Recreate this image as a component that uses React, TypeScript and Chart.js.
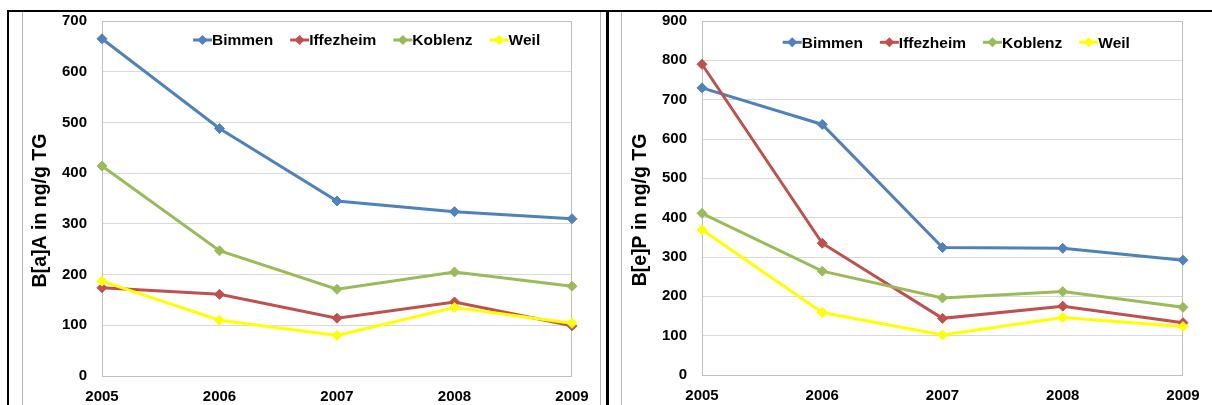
import React, { useEffect, useRef } from 'react';
import { Chart, registerables } from 'chart.js';

Chart.register(...registerables);

const FONT = '"Liberation Sans", Arial, sans-serif';

const years = ['2005', '2006', '2007', '2008', '2009'];
const stations = ['Bimmen', 'Iffezheim', 'Koblenz', 'Weil'];
const colors = ['#4F81BD', '#C0504D', '#9BBB59', '#FFFF00'];

// B[a]A in ng/g TG
const baaBimmen = [665, 488, 345, 324, 310];
const baaIffezheim = [174, 161, 114, 146, 99];
const baaKoblenz = [414, 247, 171, 205, 177];
const baaWeil = [187, 110, 80, 135, 104];

// B[e]P in ng/g TG
const bepBimmen = [730, 637, 324, 322, 292];
const bepIffezheim = [790, 335, 144, 175, 133];
const bepKoblenz = [411, 264, 196, 212, 172];
const bepWeil = [369, 159, 102, 146, 123];

const baaTicksMax = 700;
const bepTicksMax = 900;
const tickStep = 100;

const plotBorder = {
  id: 'plotBorder',
  beforeDatasetsDraw(chart: any) {
    const { ctx, chartArea } = chart;
    ctx.save();
    ctx.strokeStyle = '#bfbfbf';
    ctx.lineWidth = 1;
    ctx.strokeRect(
      Math.round(chartArea.left) + 0.5,
      Math.round(chartArea.top) + 0.5,
      Math.round(chartArea.right - chartArea.left) - 1,
      Math.round(chartArea.bottom - chartArea.top)
    );
    ctx.restore();
  },
};

const insideLegend = {
  id: 'insideLegend',
  afterDraw(chart: any, _args: any, opts: any) {
    const { ctx, chartArea } = chart;
    ctx.save();
    ctx.font = `bold ${opts.fontSize}px ${FONT}`;
    ctx.textBaseline = 'middle';
    ctx.textAlign = 'left';
    let x = chartArea.left + opts.offsetX;
    const y = chartArea.top + opts.offsetY;
    chart.data.datasets.forEach((ds: any) => {
      const c = ds.borderColor;
      ctx.strokeStyle = c;
      ctx.lineWidth = 3;
      ctx.beginPath();
      ctx.moveTo(x, y);
      ctx.lineTo(x + 19, y);
      ctx.stroke();
      ctx.fillStyle = c;
      ctx.beginPath();
      ctx.moveTo(x + 9.5, y - 5);
      ctx.lineTo(x + 14.5, y);
      ctx.lineTo(x + 9.5, y + 5);
      ctx.lineTo(x + 4.5, y);
      ctx.closePath();
      ctx.fill();
      ctx.fillStyle = '#000';
      ctx.fillText(ds.label, x + 19, y + 1);
      x += 19 + ctx.measureText(ds.label).width + opts.gap;
    });
    ctx.restore();
  },
};

const yTitle = {
  id: 'yTitle',
  afterDraw(chart: any, _args: any, opts: any) {
    const { ctx } = chart;
    ctx.save();
    ctx.translate(opts.x, opts.y);
    ctx.rotate(-Math.PI / 2);
    ctx.font = `bold ${opts.size}px ${FONT}`;
    ctx.textAlign = 'center';
    ctx.textBaseline = 'alphabetic';
    ctx.fillStyle = '#000';
    ctx.fillText(opts.text, 0, 0);
    ctx.restore();
  },
};

type PanelProps = {
  left: number;
  top: number;
  width: number;
  height: number;
  series: number[][];
  yMax: number;
  title: string;
  padTop: number;
  padRight: number;
  yAxisWidth: number;
  xAxisHeight: number;
  legendX: number;
  legendY: number;
  titleX: number;
  titleY: number;
};

function ChartPanel(p: PanelProps) {
  const ref = useRef<HTMLCanvasElement>(null);
  useEffect(() => {
    if (!ref.current) return;
    const tickFont = { family: FONT, size: 15, weight: 'bold' as const };
    const chart = new Chart(ref.current, {
      type: 'line',
      data: {
        labels: years,
        datasets: stations.map((name, i) => ({
          label: name,
          data: p.series[i],
          borderColor: colors[i],
          backgroundColor: colors[i],
          borderWidth: 3,
          pointStyle: 'rectRot',
          pointRadius: 5,
          pointBorderWidth: 1,
          pointBackgroundColor: colors[i],
          pointBorderColor: colors[i],
          tension: 0,
          order: stations.length - i,
          clip: false as any,
        })),
      },
      options: {
        responsive: false,
        maintainAspectRatio: false,
        animation: false,
        devicePixelRatio: 1,
        layout: { padding: { left: 0, top: p.padTop, right: p.padRight, bottom: 0 } },
        plugins: {
          legend: { display: false },
          tooltip: { enabled: false },
          insideLegend: { offsetX: p.legendX, offsetY: p.legendY, fontSize: 15.5, gap: 17 },
          yTitle: { x: p.titleX, y: p.titleY, size: 19.5, text: p.title },
        } as any,
        scales: {
          x: {
            grid: { display: false, drawTicks: false },
            border: { display: false },
            ticks: { color: '#000', font: tickFont, padding: 12, maxRotation: 0, autoSkip: false },
            afterFit: (s: any) => {
              s.height = p.xAxisHeight;
              s.paddingLeft = 0;
              s.paddingRight = 0;
              s.paddingTop = 0;
              s.paddingBottom = 0;
            },
          },
          y: {
            min: 0,
            max: p.yMax,
            grid: { color: '#d9d9d9', drawTicks: false },
            border: { display: false },
            ticks: { stepSize: tickStep, color: '#000', font: tickFont, padding: 15 },
            afterFit: (s: any) => {
              s.width = p.yAxisWidth;
              s.paddingLeft = 0;
              s.paddingRight = 0;
              s.paddingTop = 0;
              s.paddingBottom = 0;
            },
          },
        },
      },
      plugins: [plotBorder, insideLegend, yTitle],
    });
    return () => chart.destroy();
  }, []);
  return (
    <canvas
      ref={ref}
      width={p.width}
      height={p.height}
      style={{ position: 'absolute', left: p.left, top: p.top, width: p.width, height: p.height }}
    />
  );
}

const line = (l: number, t: number, w: number, h: number, c: string) => (
  <div style={{ position: 'absolute', left: l, top: t, width: w, height: h, background: c }} />
);

export default function App() {
  return (
    <div
      style={{
        position: 'absolute',
        left: 0,
        top: 0,
        width: 1212,
        height: 405,
        overflow: 'hidden',
        background: '#fff',
      }}
    >
      {line(22, 12, 1, 393, '#b4b4b4')}
      {line(600, 12, 1, 393, '#b4b4b4')}
      {line(621, 12, 1, 393, '#b4b4b4')}
      {line(7, 10, 1205, 2, '#000')}
      {line(7, 10, 2, 395, '#000')}
      {line(606, 10, 3, 395, '#000')}
      <ChartPanel
        left={23}
        top={12}
        width={577}
        height={393}
        series={[baaBimmen, baaIffezheim, baaKoblenz, baaWeil]}
        yMax={baaTicksMax}
        title="B[a]A in ng/g TG"
        padTop={9}
        padRight={28}
        yAxisWidth={79}
        xAxisHeight={29}
        legendX={91}
        legendY={19}
        titleX={23}
        titleY={198.5}
      />
      <ChartPanel
        left={622}
        top={12}
        width={590}
        height={393}
        series={[bepBimmen, bepIffezheim, bepKoblenz, bepWeil]}
        yMax={bepTicksMax}
        title="B[e]P in ng/g TG"
        padTop={9}
        padRight={29}
        yAxisWidth={80}
        xAxisHeight={30}
        legendX={80.7}
        legendY={21.3}
        titleX={24}
        titleY={198}
      />
    </div>
  );
}
